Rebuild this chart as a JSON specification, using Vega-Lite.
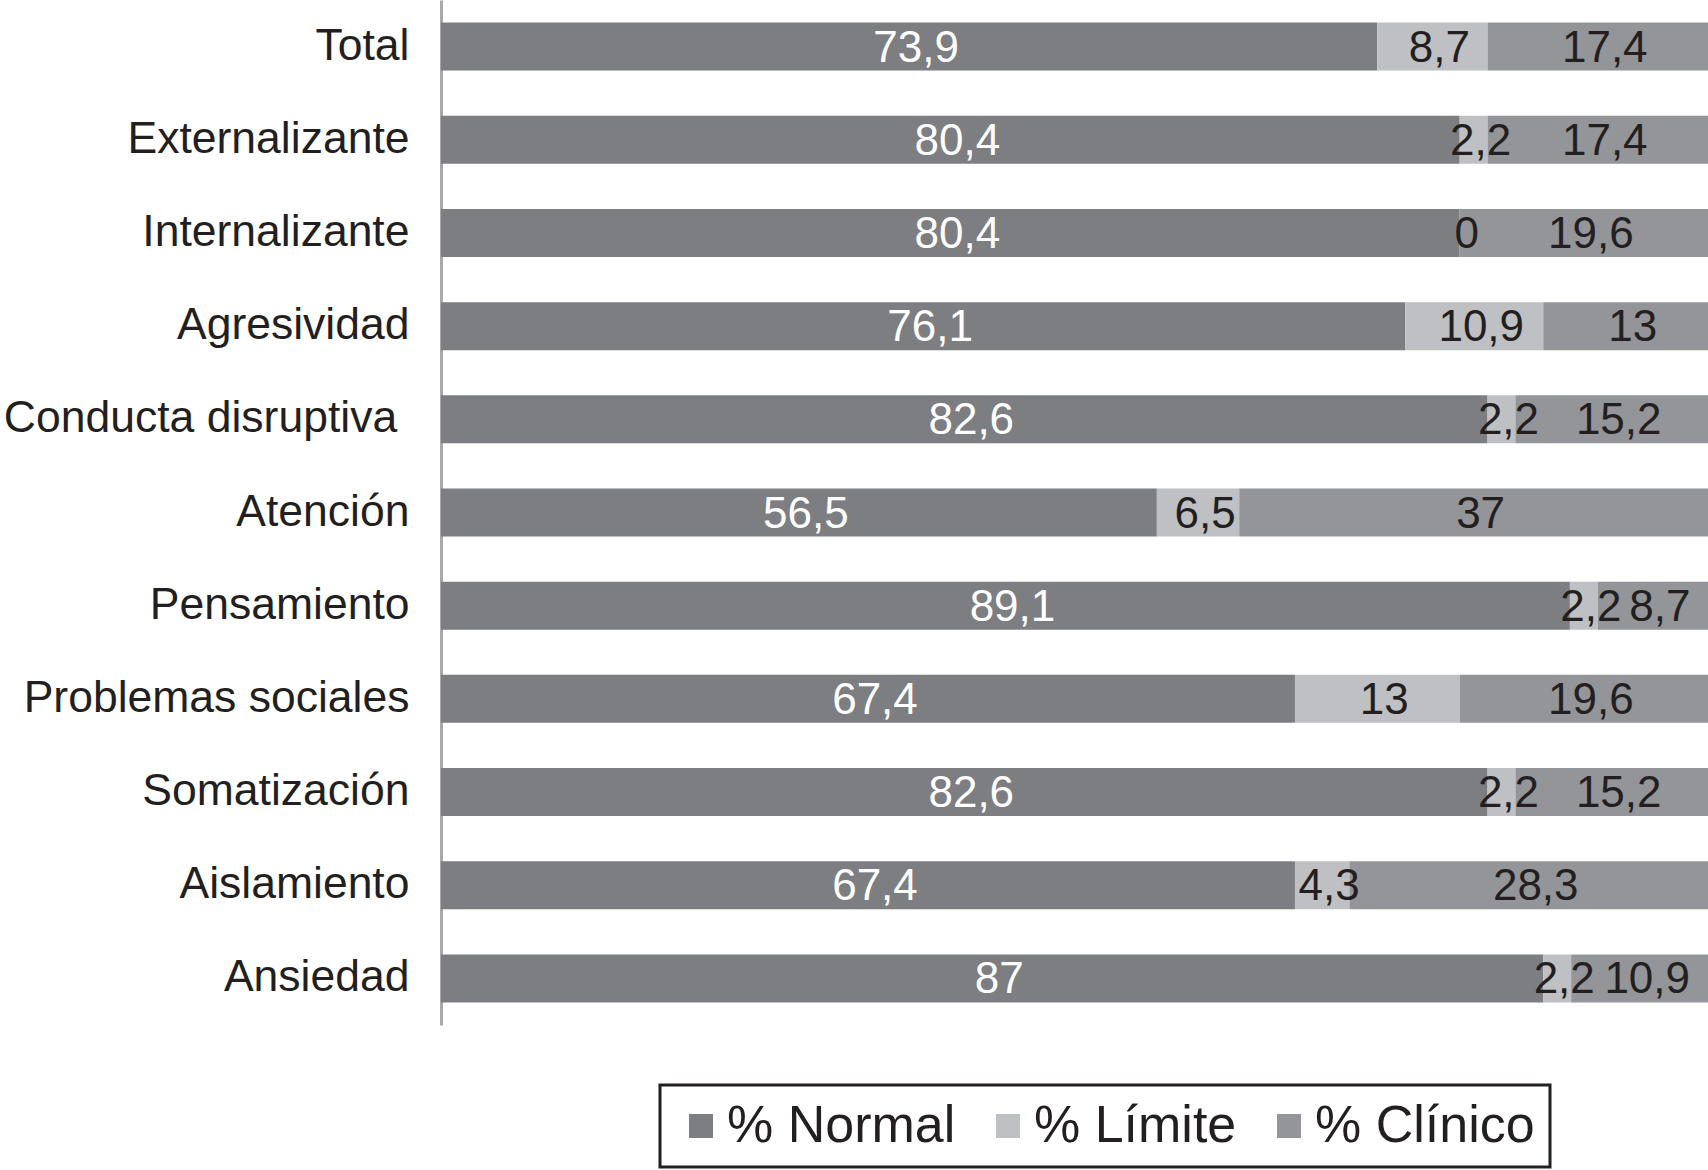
{
  "$schema": "https://vega.github.io/schema/vega-lite/v6.json",
  "width": 1267,
  "height": 1025,
  "autosize": {"type": "none"},
  "padding": {"left": 441, "top": 0, "right": 0, "bottom": 145},
  "background": "white",
  "config": {"view": {"stroke": null}, "font": "Liberation Sans"},
  "data": {"values": [
    {"cat": "Total", "serie": "% Normal", "value": 73.9},
    {"cat": "Total", "serie": "% Límite", "value": 8.7},
    {"cat": "Total", "serie": "% Clínico", "value": 17.4},
    {"cat": "Externalizante", "serie": "% Normal", "value": 80.4},
    {"cat": "Externalizante", "serie": "% Límite", "value": 2.2},
    {"cat": "Externalizante", "serie": "% Clínico", "value": 17.4},
    {"cat": "Internalizante", "serie": "% Normal", "value": 80.4},
    {"cat": "Internalizante", "serie": "% Límite", "value": 0},
    {"cat": "Internalizante", "serie": "% Clínico", "value": 19.6},
    {"cat": "Agresividad", "serie": "% Normal", "value": 76.1},
    {"cat": "Agresividad", "serie": "% Límite", "value": 10.9},
    {"cat": "Agresividad", "serie": "% Clínico", "value": 13},
    {"cat": "Conducta disruptiva\u00a0\u200b", "serie": "% Normal", "value": 82.6},
    {"cat": "Conducta disruptiva\u00a0\u200b", "serie": "% Límite", "value": 2.2},
    {"cat": "Conducta disruptiva\u00a0\u200b", "serie": "% Clínico", "value": 15.2},
    {"cat": "Atención", "serie": "% Normal", "value": 56.5},
    {"cat": "Atención", "serie": "% Límite", "value": 6.5},
    {"cat": "Atención", "serie": "% Clínico", "value": 37},
    {"cat": "Pensamiento", "serie": "% Normal", "value": 89.1},
    {"cat": "Pensamiento", "serie": "% Límite", "value": 2.2},
    {"cat": "Pensamiento", "serie": "% Clínico", "value": 8.7},
    {"cat": "Problemas sociales", "serie": "% Normal", "value": 67.4},
    {"cat": "Problemas sociales", "serie": "% Límite", "value": 13},
    {"cat": "Problemas sociales", "serie": "% Clínico", "value": 19.6},
    {"cat": "Somatización", "serie": "% Normal", "value": 82.6},
    {"cat": "Somatización", "serie": "% Límite", "value": 2.2},
    {"cat": "Somatización", "serie": "% Clínico", "value": 15.2},
    {"cat": "Aislamiento", "serie": "% Normal", "value": 67.4},
    {"cat": "Aislamiento", "serie": "% Límite", "value": 4.3},
    {"cat": "Aislamiento", "serie": "% Clínico", "value": 28.3},
    {"cat": "Ansiedad", "serie": "% Normal", "value": 87},
    {"cat": "Ansiedad", "serie": "% Límite", "value": 2.2},
    {"cat": "Ansiedad", "serie": "% Clínico", "value": 10.9}
  ]},
  "transform": [
    {"calculate": "indexof(['% Normal','% Límite','% Clínico'], datum.serie)", "as": "ord"},
    {"stack": "value", "groupby": ["cat"], "sort": [{"field": "ord", "order": "ascending"}], "as": ["v0", "v1"]},
    {"calculate": "(datum.v0 + datum.v1) / 2", "as": "mid"},
    {"calculate": "replace(format(datum.value, '.1~f'), '.', ',')", "as": "lbl"}
  ],
  "encoding": {
    "y": {
      "field": "cat",
      "type": "nominal",
      "sort": ["Total", "Externalizante", "Internalizante", "Agresividad", "Conducta disruptiva\u00a0\u200b", "Atención", "Pensamiento", "Problemas sociales", "Somatización", "Aislamiento", "Ansiedad"],
      "scale": {"paddingInner": 0.485, "paddingOuter": 0.2425},
      "axis": {
        "title": null,
        "ticks": false,
        "domainColor": "#a7a9ac",
        "domainWidth": 3,
        "labelFontSize": 44.5,
        "labelColor": "#231f20",
        "labelPadding": 32,
        "labelFont": "Liberation Sans",
        "labelLimit": 600
      }
    }
  },
  "layer": [
    {
      "mark": {"type": "bar"},
      "encoding": {
        "x": {"field": "v0", "type": "quantitative", "scale": {"domain": [0, 100], "nice": false}, "axis": null},
        "x2": {"field": "v1"},
        "color": {
          "field": "serie",
          "type": "nominal",
          "sort": ["% Normal", "% Límite", "% Clínico"],
          "scale": {"domain": ["% Normal", "% Límite", "% Clínico"], "range": ["#7d7e82", "#bfc0c3", "#939598"]},
          "legend": {
            "title": null,
            "orient": "none",
            "legendX": 219,
            "legendY": 1085,
            "direction": "horizontal",
            "strokeColor": "#231f20",
            "fillColor": "white",
            "padding": 15,
            "labelFontSize": 52,
            "labelFont": "Liberation Sans",
            "labelColor": "#231f20",
            "labelLimit": 500,
            "labelOffset": 0,
            "columnPadding": 26,
            "symbolType": "square",
            "symbolSize": 576,
            "symbolStrokeWidth": 0,
            "symbolOpacity": 1,
            "encode": {"legend": {"update": {"strokeWidth": {"value": 3}}}}
          }
        }
      }
    },
    {
      "mark": {"type": "text", "fontSize": 44, "font": "Liberation Sans", "baseline": "middle", "align": "center", "dx": 7, "dy": 2},
      "encoding": {
        "x": {"field": "mid", "type": "quantitative"},
        "text": {"field": "lbl"},
        "color": {"condition": {"test": "datum.serie === '% Normal'", "value": "white"}, "value": "#231f20"}
      }
    }
  ]
}
